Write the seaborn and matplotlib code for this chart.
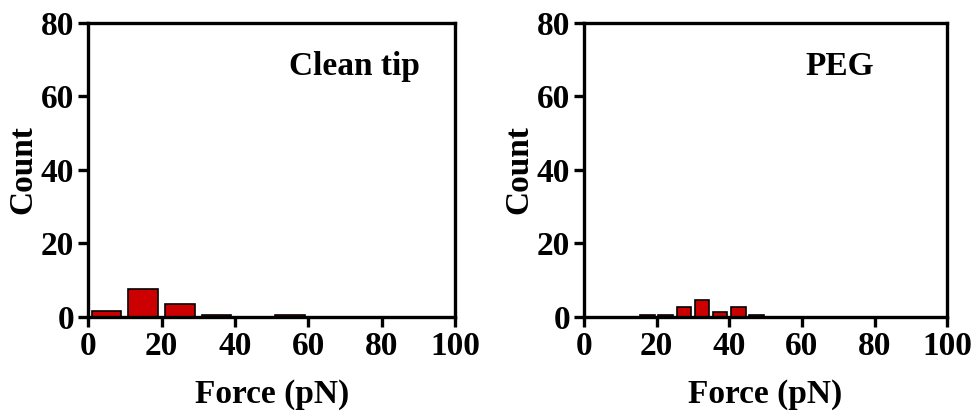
import numpy as np
import pandas as pd
import matplotlib
matplotlib.use("Agg")
import matplotlib.pyplot as plt
import seaborn as sns

# bin centres and counts
clean_centers = [5, 15, 25, 35, 45, 55]
clean_counts = [1.5, 7.6, 3.6, 0.5, 0, 0.5]
peg_centers = [17.5, 22.5, 27.5, 32.5, 37.5, 42.5, 47.5]
peg_counts = [0.5, 0.5, 2.6, 4.7, 1.4, 2.6, 0.5]

xticks = [0, 20, 40, 60, 80, 100]
yticks = [0, 20, 40, 60, 80]

sns.set_style("ticks")
plt.rcParams['font.family'] = ['Liberation Serif', 'DejaVu Serif']
plt.rcParams['font.weight'] = 'bold'
plt.rcParams['text.color'] = 'black'
plt.rcParams['axes.labelcolor'] = 'black'
plt.rcParams['xtick.color'] = 'black'
plt.rcParams['ytick.color'] = 'black'
plt.rcParams['axes.edgecolor'] = 'black'

fig = plt.figure(figsize=(9.79, 4.16), dpi=100)
ax1 = fig.add_axes([0.090, 0.238, 0.375, 0.707])
ax2 = fig.add_axes([0.5965, 0.238, 0.371, 0.707])

panels = [
    (ax1, clean_centers, clean_counts, 10, (0, 60), "Clean tip", 72.5),
    (ax2, peg_centers, peg_counts, 5, (15, 50), "PEG", 70.5),
]

for ax, centers, counts, bw, br, label, lx in panels:
    df = pd.DataFrame({"Force": centers, "Count": counts})
    sns.histplot(data=df, x="Force", weights="Count", binwidth=bw, binrange=br,
                 shrink=0.8, color="#cc0000", alpha=1, edgecolor="black",
                 linewidth=1.2, ax=ax)
    ax.set_xlim(0, 100)
    ax.set_ylim(0, 80)
    ax.set_xticks(xticks)
    ax.set_yticks(yticks)
    for s in ax.spines.values():
        s.set_visible(True)
        s.set_linewidth(2.4)
        s.set_color('black')
    ax.tick_params(width=2.4, length=7, labelsize=24, pad=3)
    for t in ax.get_xticklabels() + ax.get_yticklabels():
        t.set_fontweight('bold')
    ax.set_xlabel("Force (pN)", fontsize=24, fontweight='bold', labelpad=12)
    ax.set_ylabel("Count", fontsize=24, fontweight='bold', labelpad=2)
    ax.text(lx, 68, label, fontsize=24, fontweight='bold', ha='center', va='center')

fig.savefig("out.png", dpi=100)
